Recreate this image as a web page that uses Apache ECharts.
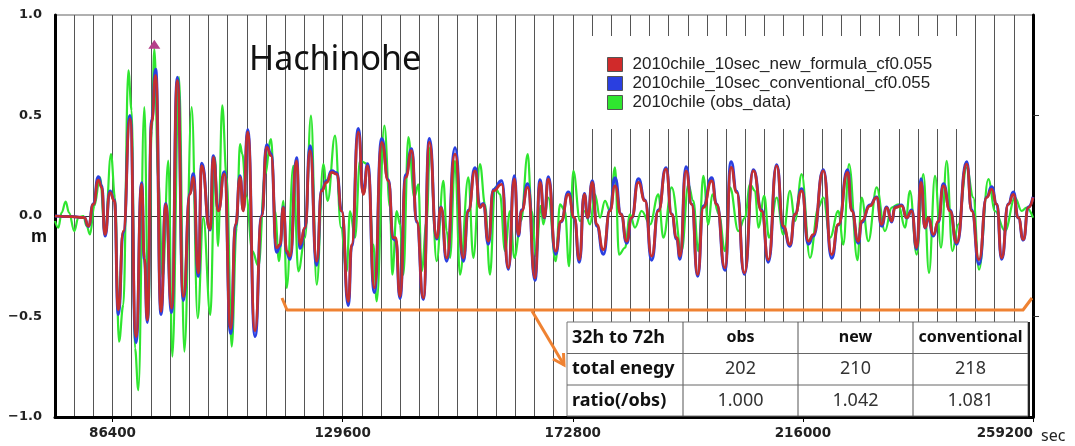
<!DOCTYPE html>
<html>
<head>
<meta charset="utf-8">
<script src="https://cdn.jsdelivr.net/npm/echarts@6/dist/echarts.min.js"></script>
<style>
html,body{margin:0;padding:0;background:#fff;}
#chart{width:1075px;height:446px;}
</style>
</head>
<body>
<div id="chart"></div>
<script>
// ---- data (seconds, metres) ----
const simT = [75600,78729,81107,81858,82797,83735,84361,84987,85926,86739,87490,88429,89681,90807,91871,92371,92935,93748,94499,95500,96377,97503,98567,99693,100945,101571,102509,103135,104700,105326,106263,107389,108578,109517,110331,110956,111770,113147,114398,115337,116150,117214,117840,118466,119092,119718,120969,121595,122533,123472,124724,125663,126601,127540,128479,129417,130669,131295,132546,133485,134299,135550,136926,138177,139116,139554,140368,141432,142558,143497,144748,145875,147251,148065,149129,150693,152258,153196,154448,155387,156013,156951,157890,159454,160706,161832,162583,163209,164336,165712,166649,167462,168213,169590,170591,171968,173094,174033,174972,175598,176474,177287,178539,179791,180729,181856,182920,183858,185110,186361,187613,188865,190304,191368,192307,192932,194059,195123,196249,197312,198876,199815,201379,202506,203570,205009,206699,208263,209515,211079,212331,213582,214521,215773,217024,217963,219840,221405,222656,224409,225160,226411,227036,228600,229852,230790,231729,232668,233294,234545,235484,236423,237361,238175,238926,239552,240490,241429,242368,243619,244871,246748,247687,249064,250503,251442,252380,253319,254570,255509,256448,257387,258326,259200];
const newFormulaV = [0,-0.003,-0.008,-0.05,0.058,0.178,0.142,-0.092,0.117,0.075,-0.467,-0.075,0.483,-0.6,0.158,-0.208,-0.517,0.467,0.7,-0.475,0.058,-0.458,0.675,-0.4,0.108,0.192,-0.283,0.25,-0.067,0.292,0.025,0.208,-0.56,-0.04,0.192,0.025,0.417,-0.57,0,0.342,0.3,-0.158,-0.142,0.042,-0.175,-0.2,0.275,-0.142,-0.058,0.325,-0.225,0.125,0.167,0.217,0.208,0.025,-0.425,-0.142,0.417,0.108,0.25,-0.358,0.367,0.175,-0.108,-0.108,-0.4,0.192,0.325,-0.025,-0.408,0.367,-0.108,0.042,-0.208,0.308,-0.208,0.025,0.225,0.042,0.058,-0.125,0.125,0.158,-0.258,0.183,-0.092,0.025,0.142,-0.308,0.167,-0.008,0.183,-0.175,-0.025,0.108,-0.008,-0.217,0.108,-0.008,0.167,-0.042,-0.167,0.025,0.15,0.008,-0.125,-0.008,0.167,0.075,-0.2,0.025,0.233,0.008,-0.108,-0.2,0.225,0.058,-0.292,0.042,0.175,0.058,-0.258,0.242,0.117,-0.283,0.225,0.025,-0.217,0.25,-0.05,-0.142,0.008,0.125,-0.125,-0.092,0.225,-0.192,-0.042,0.217,0.025,-0.125,-0.025,0.05,0.092,-0.042,0.042,-0.025,0.042,0.05,-0.008,0.025,-0.158,0.167,-0.058,-0.008,-0.092,-0.025,0.15,0.025,-0.133,0.258,0.025,-0.217,0.092,0.133,0.058,-0.208,0.058,0.108,-0.008,-0.117,0.042,0.092];
const conventionalV = [0,-0.003,-0.008,-0.052,0.06,0.195,0.15,-0.1,0.125,0.08,-0.49,-0.08,0.5,-0.63,0.165,-0.215,-0.53,0.48,0.73,-0.49,0.062,-0.48,0.69,-0.42,0.115,0.21,-0.3,0.262,-0.07,0.3,0.028,0.22,-0.585,-0.045,0.2,0.03,0.43,-0.6,0,0.355,0.31,-0.18,-0.15,0.045,-0.185,-0.215,0.29,-0.16,-0.062,0.35,-0.245,0.13,0.175,0.225,0.215,0.025,-0.445,-0.15,0.435,0.115,0.26,-0.38,0.385,0.18,-0.115,-0.12,-0.41,0.205,0.335,-0.03,-0.415,0.385,-0.115,0.045,-0.225,0.34,-0.225,0.028,0.24,0.05,0.062,-0.14,0.13,0.175,-0.265,0.2,-0.1,0.03,0.16,-0.32,0.18,-0.01,0.195,-0.19,-0.03,0.12,-0.01,-0.23,0.112,-0.01,0.175,-0.05,-0.19,0.03,0.19,0.01,-0.135,-0.01,0.185,0.08,-0.22,0.03,0.24,0.01,-0.115,-0.215,0.245,0.06,-0.3,0.05,0.19,0.06,-0.27,0.27,0.125,-0.29,0.23,0.03,-0.23,0.255,-0.06,-0.15,0.01,0.135,-0.14,-0.1,0.23,-0.21,-0.045,0.23,0.03,-0.135,-0.03,0.055,0.095,-0.05,0.045,-0.03,0.045,0.055,-0.01,0.03,-0.165,0.185,-0.06,-0.01,-0.1,-0.03,0.16,0.03,-0.14,0.27,0.03,-0.24,0.095,0.145,0.06,-0.215,0.06,0.12,-0.01,-0.12,0.045,0.095];
const obsT = [75600,76226,76852,77603,78228,79230,79981,80919,81545,82171,82984,84048,84987,86113,86864,87615,88429,89368,89989,90619,91245,92371,93122,93748,94249,95000,95813,96877,97628,98880,99881,101258,102384,103448,104762,105638,106200,107000,107827,108772,109705,110331,110769,111500,112646,113800,115024,116150,116901,117652,118466,119092,120343,121282,122533,123660,124724,125975,126789,128166,129292,130356,130982,131921,132859,134299,135362,135987,137426,138490,138928,139742,140368,140994,141932,143058,143810,144435,145374,145999,147251,148503,149129,149755,150693,151632,153196,154135,155387,156326,157265,158203,159141,160080,161019,161832,163084,164336,165086,165900,166800,167274,168213,169590,170404,171342,172093,172907,174158,175097,176036,176974,177913,178852,179791,180729,181480,182607,183545,184484,185736,187300,188865,189803,191368,193245,194497,195436,196374,197312,198250,199001,200253,201379,202318,203882,205134,206073,207011,207638,208763,209640,211079,212331,213582,214521,215773,217337,218902,219840,221092,222656,223596,224660,226250,227036,228287,229852,231416,232668,233919,235171,236110,237361,238613,239677,240803,241930,242994,244058,245184,246748,248000,249064,250816,252068,253945,255822,257074,258013,259200];
const obsV = [-0.025,-0.058,0.017,0.072,0.017,-0.075,-0.008,0,-0.05,-0.092,0.05,0.192,-0.092,0.308,0.092,-0.625,-0.442,0.725,0.525,-0.658,-0.867,0.542,-0.508,0.425,0.83,0.175,-0.308,0.275,-0.7,0.692,-0.675,0.542,-0.508,-0.008,-0.492,0.292,-0.15,0.55,0.192,-0.65,-0.058,0.358,0.308,0.1,-0.175,-0.25,0.208,0.383,0.025,-0.225,0.075,-0.358,0.25,-0.275,-0.108,0.5,-0.342,0.258,0.075,0.4,-0.058,-0.275,0.025,-0.108,0.275,0.258,-0.142,-0.425,0.45,0.042,-0.292,0.025,-0.042,-0.292,0.392,0.092,0.158,-0.275,-0.025,0.342,-0.225,0.175,-0.075,-0.208,0.275,-0.292,0.192,-0.208,0.258,0.058,-0.292,0.142,0.108,-0.175,0.025,-0.208,-0.025,0.308,0.025,-0.2,0.05,-0.042,0.092,-0.225,0.058,0.025,-0.25,0.225,-0.025,0.025,-0.042,0.108,-0.008,0.075,0.025,0.242,-0.192,-0.158,0.008,-0.058,0.025,-0.042,0.108,-0.108,0.142,-0.175,0.158,0.075,-0.175,0.2,-0.042,0.108,0.008,-0.175,0.142,-0.075,-0.008,0.158,0.125,-0.058,0.1,-0.108,0.092,-0.092,0.125,-0.025,0.208,-0.208,0.042,0.092,-0.108,0.025,-0.142,0.258,-0.22,0.092,-0.125,0.142,-0.075,0.042,0.058,-0.058,0.125,-0.192,0.208,-0.283,0.2,-0.158,0.275,-0.175,-0.042,0.242,0.092,-0.267,0.183,0.025,-0.075,0.092,0.025,0.042,-0.008];
const seriesNames = ['2010chile_10sec_new_formula_cf0.055','2010chile_10sec_conventional_cf0.055','2010chile (obs_data)'];
const xTickValues = [86400,129600,172800,216000,259200];
const tableHeader = ['32h to 72h','obs','new','conventional'];
const tableRowLabels = ['total enegy','ratio(/obs)'];
const totalEnergy = ['202','210','218'];
const ratioObs = ['1.000','1.042','1.081'];

// ---- chart ----
const RED = '#c42f2f', BLUE = '#2a3fe0', GREEN = '#2fe62f', ORANGE = '#ef8232';
const chart = echarts.init(document.getElementById('chart'), null, {renderer:'canvas'});
const pair = (ts, vs) => ts.map((t, i) => [t, vs[i]]);

// table graphic
const colX = [567, 683, 798, 913, 1028];
const rowY = [322, 353.5, 385, 416];
const tbl = [];
tbl.push({type:'rect', z:100, shape:{x:colX[0], y:rowY[0], width:colX[4]-colX[0], height:rowY[3]-rowY[0]}, style:{fill:'#fff', stroke:'#777', lineWidth:1}});
for (let i = 1; i < 4; i++) tbl.push({type:'line', z:101, shape:{x1:colX[i], y1:rowY[0], x2:colX[i], y2:rowY[3]}, style:{stroke:'#555', lineWidth:1}});
for (let j = 1; j < 3; j++) tbl.push({type:'line', z:101, shape:{x1:colX[0], y1:rowY[j], x2:colX[4], y2:rowY[j]}, style:{stroke:'#666', lineWidth:1}});
tbl.push({type:'line', z:102, shape:{x1:colX[4]+1, y1:rowY[0], x2:colX[4]+1, y2:rowY[3]}, style:{stroke:'#222', lineWidth:2}});
const rows = [tableHeader, [tableRowLabels[0]].concat(totalEnergy), [tableRowLabels[1]].concat(ratioObs)];
rows.forEach((row, r) => {
  row.forEach((txt, c) => {
    const cy = (rowY[r] + rowY[r+1]) / 2;
    const isLabel = c === 0;
    const bold = isLabel || r === 0;
    tbl.push({type:'text', z:103, x: isLabel ? colX[0] + 5 : (colX[c] + colX[c+1]) / 2, y: cy,
      style:{text: txt, fill: bold ? '#111' : '#333', font: (bold ? 'bold ' : '') + ((r === 0 && !isLabel) ? '16px' : '18px') + ' "Noto Sans"',
        textAlign: isLabel ? 'left' : 'center', textVerticalAlign:'middle'}});
  });
});
// bracket + arrow + unit labels
const ann = [
  {type:'polyline', z:90, shape:{points:[[282,298],[287,310],[1023,310],[1032,298]]}, style:{stroke:ORANGE, lineWidth:3, fill:null, lineJoin:'round'}},
  {type:'polyline', z:90, shape:{points:[[532,311],[564,365]]}, style:{stroke:ORANGE, lineWidth:3, fill:null}},
  {type:'polyline', z:90, shape:{points:[[553,359],[564,365],[563.5,353]]}, style:{stroke:ORANGE, lineWidth:3, fill:null, lineJoin:'miter'}},
  {type:'text', z:90, x:47, y:237, style:{text:'m', font:'bold 18px "Liberation Sans"', fill:'#111', textAlign:'right', textVerticalAlign:'middle'}},
  {type:'text', z:90, x:1041, y:436, style:{text:'sec', font:'16px "Noto Sans"', fill:'#222', textAlign:'left', textVerticalAlign:'middle'}}
];

const option = {
  animation:false,
  backgroundColor:'#fff',
  title:{text:'Hachinohe', left:249, top:43, padding:0,
    textStyle:{fontSize:34, fontWeight:'normal', fontFamily:'Noto Sans', color:'#111'}},
  legend:{
    data: seriesNames, orient:'vertical', left:589, top:36,
    padding:[20, 38, 18, 18], backgroundColor:'#fff',
    itemWidth:15, itemHeight:14, itemGap:2, icon:'rect',
    itemStyle:{borderColor:'#555', borderWidth:1},
    textStyle:{fontSize:17, fontFamily:'Liberation Sans', color:'#222', padding:[0,0,0,5], lineHeight:17},
    selectedMode:false
  },
  grid:{left:55, right:42, top:15, bottom:29, show:true, borderColor:'#b0b0b0', borderWidth:2, containLabel:false},
  xAxis:[
    {type:'value', min:75600, max:259200, position:'bottom',
      axisLine:{show:true, onZero:false, lineStyle:{color:'#000', width:3}},
      axisTick:{show:true, customValues:xTickValues, length:5, inside:false, lineStyle:{color:'#000', width:1}},
      axisLabel:{show:true, customValues:xTickValues, margin:9, color:'#222', fontFamily:'DejaVu Sans', fontWeight:'bold', fontSize:13.5,
        alignMaxLabel:'right', formatter:(v) => String(v)},
      splitLine:{show:false}},
    {type:'value', min:75600, max:259200, interval:3600, position:'bottom',
      axisLine:{show:true, onZero:true, lineStyle:{color:'#333', width:1}},
      axisTick:{show:false}, axisLabel:{show:false},
      splitLine:{show:true, lineStyle:{color:'#555', width:1}}}
  ],
  yAxis:[
    {type:'value', min:-1, max:1, interval:0.5, position:'left',
      axisLine:{show:true, onZero:false, lineStyle:{color:'#000', width:3}},
      axisTick:{show:false},
      axisLabel:{show:true, margin:13, color:'#222', fontFamily:'DejaVu Sans', fontWeight:'bold', fontSize:13,
        formatter:(v) => (v < 0 ? '\u2212' : '') + Math.abs(v).toFixed(1)},
      splitLine:{show:false}},
    {type:'value', min:-1, max:1, interval:0.5, position:'right',
      axisLine:{show:true, onZero:false, lineStyle:{color:'#000', width:3}},
      axisTick:{show:true, customValues:[-0.5,0.5], inside:false, length:6, lineStyle:{color:'#333'}},
      axisLabel:{show:false}, splitLine:{show:false}}
  ],
  series:[
    {name:seriesNames[2], type:'line', xAxisIndex:0, yAxisIndex:0, data:pair(obsT, obsV),
      showSymbol:false, smooth:0.4, smoothMonotone:'x', z:2,
      lineStyle:{color:GREEN, width:2.2}, itemStyle:{color:GREEN},
      markPoint:{symbol:'triangle', symbolSize:[12,9], symbolOffset:[0,-5], silent:true,
        itemStyle:{color:'#b5408a'}, label:{show:false}, data:[{type:'max', valueDim:'y'}]}},
    {name:seriesNames[1], type:'line', xAxisIndex:0, yAxisIndex:0, data:pair(simT, conventionalV),
      showSymbol:false, smooth:0.55, smoothMonotone:'x', z:3,
      lineStyle:{color:BLUE, width:3}, itemStyle:{color:BLUE}},
    {name:seriesNames[0], type:'line', xAxisIndex:0, yAxisIndex:0, data:pair(simT, newFormulaV),
      showSymbol:false, smooth:0.55, smoothMonotone:'x', z:4,
      lineStyle:{color:RED, width:2.7}, itemStyle:{color:'#d02a2a'}}
  ],
  graphic: tbl.concat(ann)
};
chart.setOption(option);
</script>
</body>
</html>
